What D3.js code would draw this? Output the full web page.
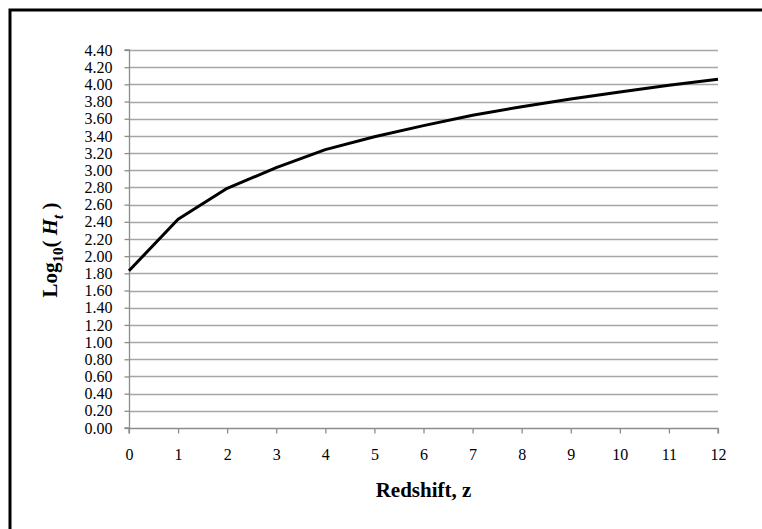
<!DOCTYPE html>
<html>
<head>
<meta charset="utf-8">
<script src="https://cdn.jsdelivr.net/npm/d3@7"></script>
<style>
  body { margin: 0; background: #fff; }
  svg { display: block; font-family: "Liberation Serif", "Times New Roman", serif; }
</style>
</head>
<body>
<script>
var redshift = [0, 1, 2, 3, 4, 5, 6, 7, 8, 9, 10, 11, 12];
var logH = [1.83, 2.43, 2.79, 3.03, 3.24, 3.39, 3.52, 3.64, 3.74, 3.83, 3.91, 3.99, 4.06];
var yTicks = d3.range(0, 4.41, 0.2);

var width = 762, height = 529;
var margin = { top: 50, right: 44, bottom: 101, left: 129 };

var svg = d3.select('body')
	.append('svg')
	.attr('width', width)
	.attr('height', height);

// outer chart frame (only left and top edges fall inside the picture)
svg.append('rect')
	.attr('x', 10)
	.attr('y', 10)
	.attr('width', 800)
	.attr('height', 600)
	.attr('fill', 'none')
	.attr('stroke', '#000')
	.attr('stroke-width', 3);

var x = d3.scaleLinear()
	.domain([0, 12])
	.range([margin.left, width - margin.right]);

var y = d3.scaleLinear()
	.domain([0, 4.4])
	.range([height - margin.bottom, margin.top]);

// gridlines
svg.append('g')
	.selectAll('line')
	.data(yTicks.slice(1))
	.enter()
	.append('line')
	.attr('x1', x(0))
	.attr('x2', x(12))
	.attr('y1', function(d) { return Math.round(y(d)) + 0.5; })
	.attr('y2', function(d) { return Math.round(y(d)) + 0.5; })
	.attr('stroke', '#a6a6a6')
	.attr('stroke-width', 1.3);

var yAxis = svg.append('g')
	.attr('transform', 'translate(' + (x(0) + 0.5) + ',0)')
	.call(d3.axisLeft(y)
		.tickValues(yTicks)
		.tickSize(5)
		.tickPadding(12)
		.tickFormat(d3.format('.2f')));

var xAxis = svg.append('g')
	.attr('transform', 'translate(0,' + (y(0) + 0.5) + ')')
	.call(d3.axisBottom(x)
		.tickValues(redshift)
		.tickSize(5)
		.tickPadding(15)
		.tickFormat(d3.format('d')));

[yAxis, xAxis].forEach(function(ax) {
	ax.select('.domain').attr('stroke', '#8c8c8c').attr('stroke-width', 1.3);
	ax.selectAll('.tick line').attr('stroke', '#8c8c8c').attr('stroke-width', 1.3);
	ax.selectAll('.tick text')
		.attr('fill', '#000')
		.style('font-family', '"Liberation Serif", "Times New Roman", serif')
		.style('font-size', '16px');
});
xAxis.select('.domain').attr('d', 'M' + x(0) + ',5V0H' + x(12) + 'V5');
yAxis.select('.domain').attr('d', 'M-5,' + y(0) + 'H0V' + y(4.4) + 'H-5');

var line = d3.line()
	.x(function(d, i) { return x(redshift[i]); })
	.y(function(d) { return y(d); });

svg.append('path')
	.datum(logH)
	.attr('d', line)
	.attr('fill', 'none')
	.attr('stroke', '#000')
	.attr('stroke-width', 3)
	.attr('stroke-linejoin', 'round');

// axis titles
svg.append('text')
	.attr('x', (x(0) + x(12)) / 2)
	.attr('y', 497)
	.attr('text-anchor', 'middle')
	.style('font-size', '21px')
	.style('font-weight', 'bold')
	.text('Redshift, z');

var yTitle = svg.append('text')
	.attr('transform', 'translate(57,250) rotate(-90)')
	.attr('text-anchor', 'middle')
	.style('font-size', '21px')
	.style('font-weight', 'bold');
yTitle.append('tspan').text('Log');
yTitle.append('tspan').attr('dy', 6).style('font-size', '15px').text('10');
yTitle.append('tspan').attr('dy', -6).text('( ');
yTitle.append('tspan').style('font-style', 'italic').text('H');
yTitle.append('tspan').attr('dy', 6).style('font-size', '15px').style('font-style', 'italic').text('t');
yTitle.append('tspan').attr('dy', -6).text(' )');
</script>
</body>
</html>
